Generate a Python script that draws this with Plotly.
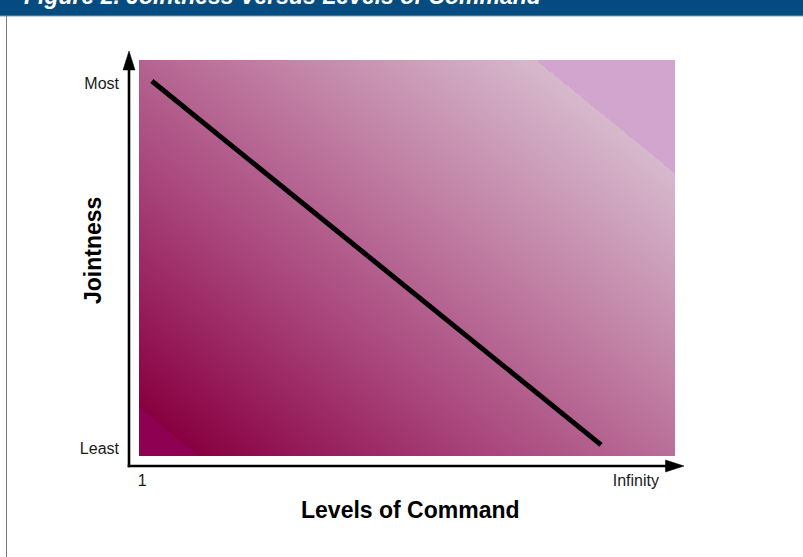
import numpy as np
import plotly.graph_objects as go

W, H = 803, 557

# ---- data (abstract 0..1 scales) ----
x_tick_vals = [0.006, 0.927]
x_tick_text = ["1", "Infinity"]
y_tick_vals = [0.018, 0.942]
y_tick_text = ["Least", "Most"]
levels_of_command = [0.024, 0.862]
jointness = [0.947, 0.028]

title_text = "Figure 2. Jointness Versus Levels of Command"
x_title = "Levels of Command"
y_title = "Jointness"

# ---- geometry helpers (pixels -> paper) ----
def px(x):
    return x / W

def py(y):
    return 1 - y / H

# plot rectangle in pixels
RL, RR, RT, RB = 139, 675, 60, 456
# axis line positions / arrow tips
AX_X, AX_Y = 129, 466
TIP_X, TIP_Y = 684, 51

sx = RR - RL
sy = RB - RT
x_range = [(AX_X - 1 - RL) / sx, (TIP_X + 1 - RL) / sx]
y_range = [(RB - (AX_Y + 1)) / sy, (RB - (TIP_Y - 1)) / sy]

# ---- background gradient ----
nx, ny = 200, 150
xe = np.linspace(0, 1, nx + 1)
ye = np.linspace(0, 1, ny + 1)
xc = (xe[:-1] + xe[1:]) / 2
yc = (ye[:-1] + ye[1:]) / 2
XX, YY = np.meshgrid(xc, yc)
PX = RL + sx * XX
PY = RB - sy * YY
dx_, dy_ = 112, -137
v0 = dx_ * 139 + dy_ * 407
v1 = dx_ * 536 + dy_ * 60
T = (dx_ * PX + dy_ * PY - v0) / (v1 - v0)
tmin = (dx_ * RL + dy_ * RB - v0) / (v1 - v0)
tmax = (dx_ * RR + dy_ * RT - v0) / (v1 - v0)

def p(t):
    return (t - tmin) / (tmax - tmin)

eps = 1e-4
colorscale = [
    [0.0, "#8e0052"],
    [p(0) - eps, "#8e0052"],
    [p(0), "#880040"],
    [p(0.35), "#a8447a"],
    [p(0.67), "#c080a4"],
    [p(1.0), "#d6b9cd"],
    [p(1.0) + eps, "#d1a5cd"],
    [1.0, "#d1a5cd"],
]

fig = go.Figure()
fig.add_trace(go.Heatmap(
    x=xe, y=ye, z=T, zmin=tmin, zmax=tmax,
    colorscale=colorscale, zsmooth="best", showscale=False, hoverinfo="skip",
))
fig.add_trace(go.Scatter(
    x=levels_of_command, y=jointness, mode="lines",
    line=dict(color="black", width=5), hoverinfo="skip", showlegend=False,
))

shapes = []
# title bar
shapes.append(dict(type="rect", xref="paper", yref="paper", x0=0, x1=1,
                   y0=py(16), y1=1, fillcolor="#064b80", line=dict(width=0), layer="below"))
shapes.append(dict(type="line", xref="paper", yref="paper", x0=0, x1=1,
                   y0=py(16), y1=py(16), line=dict(color="#7d9dbd", width=1), layer="below"))
# left border
shapes.append(dict(type="line", xref="paper", yref="paper", x0=px(6.5), x1=px(6.5),
                   y0=0, y1=py(16), line=dict(color="#7a7a7a", width=1)))
# axis lines
shapes.append(dict(type="line", xref="paper", yref="paper", x0=px(AX_X), x1=px(AX_X),
                   y0=py(AX_Y + 1.3), y1=py(68), line=dict(color="black", width=2.6)))
shapes.append(dict(type="line", xref="paper", yref="paper", x0=px(AX_X - 1.3), x1=px(667),
                   y0=py(AX_Y), y1=py(AX_Y), line=dict(color="black", width=2.6)))
# arrowheads
def tri(pts):
    d = "M " + " L ".join(f"{px(a)},{py(b)}" for a, b in pts) + " Z"
    return dict(type="path", xref="paper", yref="paper", path=d,
                fillcolor="black", line=dict(color="black", width=0.5))

shapes.append(tri([(AX_X, TIP_Y), (AX_X - 6, 70), (AX_X + 6, 70)]))
shapes.append(tri([(TIP_X, AX_Y), (665.5, AX_Y - 6), (665.5, AX_Y + 6)]))

sans = "Liberation Sans, Arial, sans-serif"

annotations = [
    dict(text="<b><i>" + title_text + "</i></b>", xref="paper", yref="paper",
         x=px(22), y=py(-4), xanchor="left", yanchor="middle", showarrow=False,
         font=dict(family=sans, size=23, color="white")),
    dict(text="<b>" + x_title + "</b>", xref="paper", yref="paper",
         x=px(410), y=py(510), xanchor="center", yanchor="middle", showarrow=False,
         font=dict(family=sans, size=23, color="black")),
    dict(text="<b>" + y_title + "</b>", xref="paper", yref="paper",
         x=px(93), y=py(251), xanchor="center", yanchor="middle", showarrow=False,
         textangle=-90, font=dict(family=sans, size=23, color="black")),
]

fig.update_layout(
    width=W, height=H,
    margin=dict(l=0, r=0, t=0, b=0),
    paper_bgcolor="white", plot_bgcolor="rgba(0,0,0,0)",
    showlegend=False,
    shapes=shapes,
    annotations=annotations,
    xaxis=dict(
        domain=[px(AX_X - 1), px(TIP_X + 1)], range=x_range,
        showgrid=False, zeroline=False, showline=False,
        tickmode="array", tickvals=x_tick_vals, ticktext=x_tick_text,
        ticks="", ticklabelstandoff=2,
        tickfont=dict(family=sans, size=16, color="#1a1a1a"),
        fixedrange=True,
    ),
    yaxis=dict(
        domain=[py(AX_Y + 1), py(TIP_Y - 1)], range=y_range,
        showgrid=False, zeroline=False, showline=False,
        tickmode="array", tickvals=y_tick_vals, ticktext=y_tick_text,
        ticks="", ticklabelstandoff=8,
        tickfont=dict(family=sans, size=16, color="#1a1a1a"),
        fixedrange=True,
    ),
)

fig.write_html("out.html", config={"displayModeBar": False},
               post_script="document.body.style.margin='0px';")
